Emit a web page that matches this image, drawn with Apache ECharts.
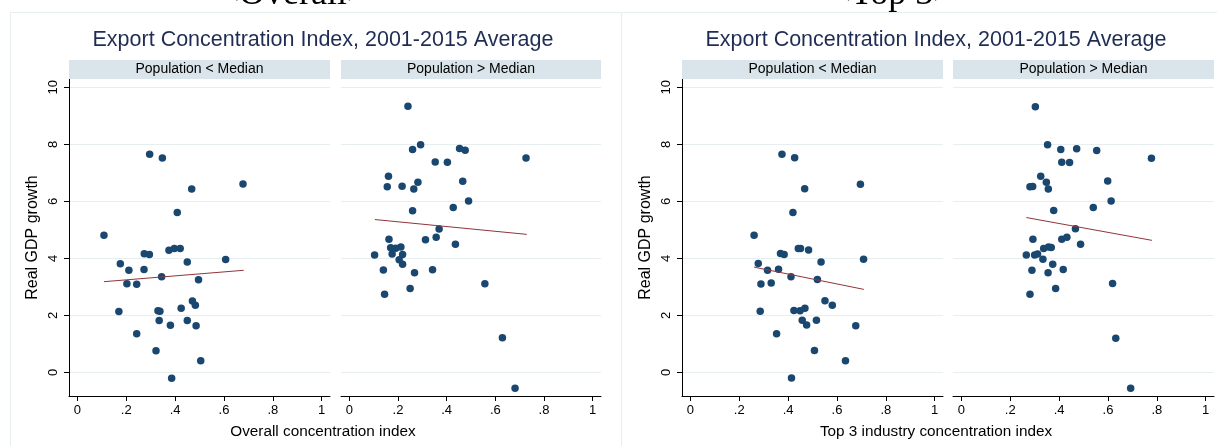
<!DOCTYPE html>
<html>
<head>
<meta charset="utf-8">
<script src="https://cdn.jsdelivr.net/npm/echarts@6/dist/echarts.min.js"></script>
<style>html,body{margin:0;padding:0;background:#fff;}#c{width:1217px;height:446px;}</style>
</head>
<body>
<div id="c"></div>
<script>
// ---- Data ----
const overallLow = [[0.296,7.65],[0.348,7.52],[0.468,6.43],[0.678,6.61],[0.409,5.61],[0.109,4.81],[0.274,4.16],[0.295,4.13],[0.375,4.28],[0.397,4.34],[0.421,4.34],[0.176,3.81],[0.450,3.87],[0.607,3.96],[0.211,3.58],[0.273,3.61],[0.345,3.35],[0.496,3.25],[0.203,3.11],[0.243,3.09],[0.471,2.50],[0.483,2.35],[0.170,2.13],[0.330,2.16],[0.338,2.14],[0.425,2.25],[0.335,1.82],[0.450,1.82],[0.381,1.65],[0.486,1.63],[0.243,1.35],[0.322,0.76],[0.505,0.41],[0.386,-0.21]];
const overallHigh = [[0.241,9.33],[0.260,7.82],[0.293,7.98],[0.453,7.85],[0.476,7.79],[0.353,7.38],[0.403,7.37],[0.726,7.52],[0.161,6.88],[0.156,6.51],[0.217,6.53],[0.282,6.67],[0.265,6.43],[0.466,6.70],[0.490,6.01],[0.427,5.78],[0.260,5.67],[0.369,5.03],[0.163,4.67],[0.313,4.65],[0.357,4.74],[0.436,4.49],[0.170,4.37],[0.191,4.35],[0.212,4.40],[0.176,4.15],[0.219,4.13],[0.104,4.12],[0.205,3.95],[0.219,3.79],[0.140,3.59],[0.268,3.49],[0.342,3.60],[0.557,3.11],[0.250,2.94],[0.145,2.74],[0.629,1.21],[0.681,-0.56]];
const top3Low = [[0.375,7.65],[0.427,7.53],[0.468,6.44],[0.696,6.60],[0.420,5.61],[0.261,4.81],[0.369,4.17],[0.384,4.13],[0.442,4.34],[0.451,4.34],[0.484,4.29],[0.278,3.82],[0.535,3.87],[0.709,3.97],[0.316,3.58],[0.361,3.62],[0.412,3.35],[0.520,3.26],[0.289,3.10],[0.331,3.13],[0.551,2.51],[0.581,2.35],[0.286,2.14],[0.424,2.17],[0.449,2.16],[0.469,2.25],[0.458,1.83],[0.516,1.83],[0.476,1.66],[0.677,1.63],[0.353,1.35],[0.508,0.77],[0.635,0.41],[0.414,-0.20]];
const top3High = [[0.303,9.32],[0.353,7.98],[0.407,7.82],[0.472,7.84],[0.554,7.78],[0.411,7.37],[0.443,7.36],[0.778,7.51],[0.325,6.88],[0.281,6.51],[0.292,6.52],[0.348,6.67],[0.356,6.43],[0.599,6.71],[0.613,6.01],[0.540,5.78],[0.378,5.68],[0.467,5.04],[0.293,4.67],[0.411,4.67],[0.432,4.74],[0.488,4.49],[0.337,4.34],[0.357,4.40],[0.368,4.38],[0.300,4.12],[0.312,4.15],[0.266,4.12],[0.334,3.97],[0.374,3.79],[0.289,3.58],[0.355,3.49],[0.417,3.61],[0.619,3.12],[0.386,2.94],[0.281,2.74],[0.632,1.20],[0.693,-0.56]];
// fitted-line endpoints
const fitOverallLow = [[0.109,3.18],[0.681,3.58]];
const fitOverallHigh = [[0.105,5.36],[0.729,4.84]];
const fitTop3Low = [[0.261,3.69],[0.710,2.91]];
const fitTop3High = [[0.266,5.43],[0.780,4.63]];
// ticks and labels
const xTicks = [0, 0.2, 0.4, 0.6, 0.8, 1];
const yTicks = [0, 2, 4, 6, 8, 10];
const mainTitle = 'Export Concentration Index, 2001-2015 Average';
const stripLabels = ['Population < Median', 'Population > Median'];
const xTitles = ['Overall concentration index', 'Top 3 industry concentration index'];
const yTitle = 'Real GDP growth';
const figTags = ['<Overall>', '<Top 3>'];

const FONT = '"Liberation Sans", Arial, sans-serif';
const DOT = '#1a476f', FIT = '#90353b', GRID = '#e6eef0', STRIP = '#d9e5ea', FRAME = '#e6eef0';

const grids = [
  {left: 69, top: 79, width: 261, height: 317},
  {left: 341, top: 79, width: 260, height: 317},
  {left: 682, top: 79, width: 261, height: 317},
  {left: 953, top: 79, width: 261, height: 317}
];

function fmtX(v){ if (v === 0) return '0'; if (v === 1) return '1'; return String(Math.round(v*10)/10).replace(/^0/, ''); }

const xAxes = grids.map((g, i) => ({
  gridIndex: i, type: 'value', min: -0.034, max: 1.034,
  axisLine: {show: true, onZero: false, lineStyle: {color: '#000', width: 1}},
  axisTick: {show: true, length: 5, lineStyle: {color: '#000'}, customValues: xTicks},
  axisLabel: {show: true, customValues: xTicks, formatter: fmtX, color: '#000', fontSize: 13, fontFamily: FONT, margin: 8},
  splitLine: {show: false}
}));
const yAxes = grids.map((g, i) => {
  const main = (i % 2 === 0);
  return {
    gridIndex: i, type: 'value', min: -0.83, max: 10.29,
    name: main ? yTitle : '', nameLocation: 'middle', nameGap: 28,
    nameTextStyle: {color: '#000', fontSize: 16, fontFamily: FONT},
    axisLine: {show: main, onZero: false, lineStyle: {color: '#000', width: 1}},
    axisTick: {show: main, length: 5, lineStyle: {color: '#000'}, customValues: yTicks},
    axisLabel: {show: main, customValues: yTicks, rotate: 90, color: '#000', fontSize: 13, fontFamily: FONT, margin: 9},
    splitLine: {show: true, lineStyle: {color: GRID, width: 1}}
  };
});

const scatterSets = [overallLow, overallHigh, top3Low, top3High];
const fitSets = [fitOverallLow, fitOverallHigh, fitTop3Low, fitTop3High];
const series = [];
scatterSets.forEach((d, i) => {
  series.push({type: 'scatter', xAxisIndex: i, yAxisIndex: i, data: d, symbolSize: 7.5,
    itemStyle: {color: DOT, opacity: 1}, silent: true, z: 3});
});
fitSets.forEach((d, i) => {
  series.push({type: 'line', xAxisIndex: i, yAxisIndex: i, data: d, showSymbol: false, symbol: 'none',
    lineStyle: {color: FIT, width: 1}, silent: true, z: 4});
});

const graphic = [];
// figure frames
graphic.push({type: 'rect', shape: {x: 10.5, y: 12.5, width: 611, height: 450}, style: {fill: 'none', stroke: FRAME, lineWidth: 1}, z: -10});
graphic.push({type: 'rect', shape: {x: 621.5, y: 12.5, width: 620, height: 450}, style: {fill: 'none', stroke: FRAME, lineWidth: 1}, z: -10});
// strips
grids.forEach((g, i) => {
  graphic.push({type: 'rect', shape: {x: g.left, y: 60, width: g.width, height: 19}, style: {fill: STRIP}, z: 1});
  graphic.push({type: 'text', x: g.left + g.width/2, y: 69.5, style: {text: stripLabels[i % 2], fill: '#000', font: '14px ' + FONT, align: 'center', verticalAlign: 'middle'}, z: 2});
});
// titles
const titleCenters = [323, 936];
const tagCenters = [293, 892];
[0, 1].forEach(k => {
  graphic.push({type: 'text', x: titleCenters[k], y: 40, style: {text: mainTitle, fill: '#1f2d54', font: '21.5px ' + FONT, align: 'center', verticalAlign: 'middle'}});
  graphic.push({type: 'text', x: titleCenters[k], y: 432, style: {text: xTitles[k], fill: '#000', font: '15.3px ' + FONT, align: 'center', verticalAlign: 'middle'}});
  graphic.push({type: 'text', x: tagCenters[k], y: -5, style: {text: figTags[k], fill: '#000', font: '36px "Liberation Serif", "Times New Roman", serif', align: 'center', verticalAlign: 'middle'}});
});

const chart = echarts.init(document.getElementById('c'), null, {renderer: 'canvas'});
chart.setOption({
  animation: false,
  backgroundColor: '#fff',
  grid: grids.map(g => Object.assign({containLabel: false}, g)),
  xAxis: xAxes,
  yAxis: yAxes,
  series: series,
  graphic: graphic
});
</script>
</body>
</html>
